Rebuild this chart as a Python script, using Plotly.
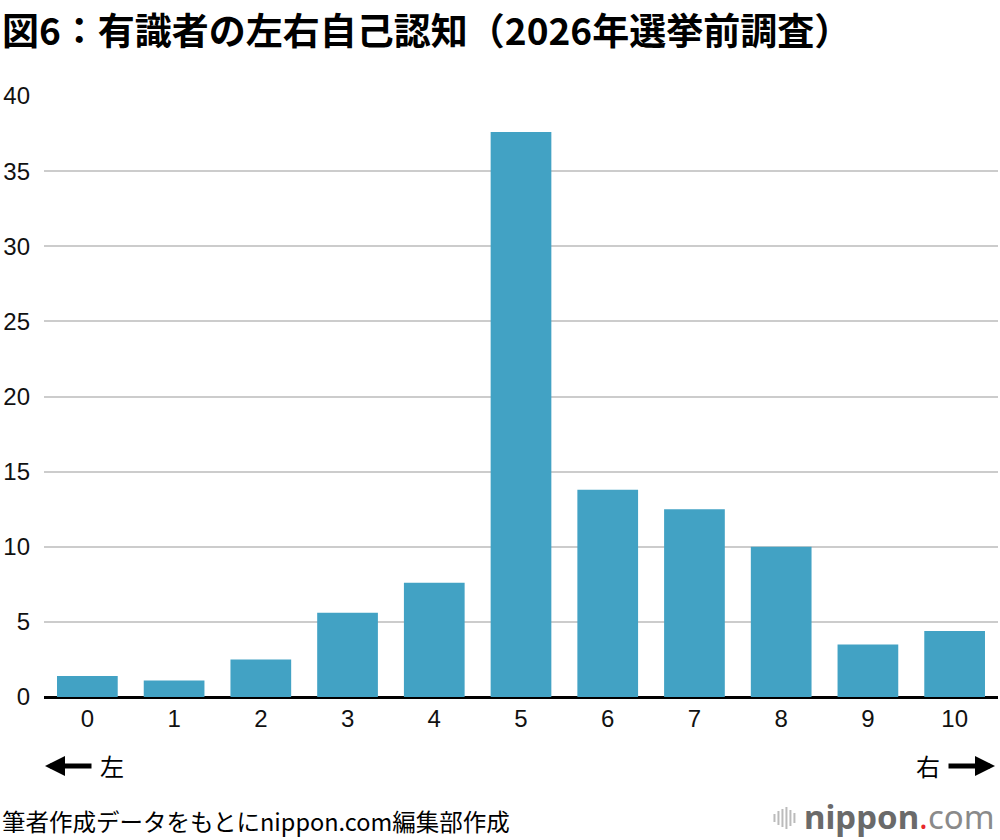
import plotly.graph_objects as go

categories = ["0", "1", "2", "3", "4", "5", "6", "7", "8", "9", "10"]
values = [1.4, 1.1, 2.5, 5.6, 7.6, 37.6, 13.8, 12.5, 10.0, 3.5, 4.4]
y_ticks = [0, 5, 10, 15, 20, 25, 30, 35, 40]

title_text = "図6：有識者の左右自己認知（2026年選挙前調査）"
source_text = "筆者作成データをもとにnippon.com編集部作成"

JP = "Noto Sans CJK JP"
NUM = "Liberation Sans"

L, T, B, W = 44, 96, 143, 956
H = 840 - T - B


def px(x):
    return (x - L) / W


def py(y):
    return (840 - B - y) / H


fig = go.Figure(go.Bar(
    x=categories, y=values,
    marker=dict(color="#42A2C4", line=dict(width=0)),
    hoverinfo="x+y",
))

shapes = []
# nippon.com logo icon (decorative vertical bars)
for xx, h in [(776, 8), (780, 14), (784, 18), (788, 22), (792, 16), (796, 10)]:
    shapes.append(dict(type="line", xref="paper", yref="paper",
                       x0=px(xx), x1=px(xx), y0=py(818 - h / 2), y1=py(818 + h / 2),
                       line=dict(color="#bbbbbb", width=2)))

fig.update_layout(
    width=1000, height=840,
    margin=dict(l=L, r=2, t=T, b=B),
    paper_bgcolor="white", plot_bgcolor="white",
    bargap=0.3,
    showlegend=False,
    shapes=shapes,
    xaxis=dict(
        type="category", showgrid=False, zeroline=False, showline=False,
        ticks="", tickfont=dict(family=NUM, size=24, color="#111"),
        ticklabelstandoff=5,
    ),
    yaxis=dict(
        range=[0, 40], tickvals=y_ticks, showgrid=True, gridcolor="#cccccc", gridwidth=1.5,
        zeroline=True, zerolinecolor="#000", zerolinewidth=2.5, showline=False,
        ticks="", tickfont=dict(family=NUM, size=24, color="#111"),
        ticklabelstandoff=13,
    ),
    annotations=[
        dict(text="<b>" + title_text + "</b>", xref="paper", yref="paper",
             x=px(0), y=py(0), xanchor="left", yanchor="top",
             showarrow=False, font=dict(family=JP, size=37, color="#000")),
        # left arrow
        dict(text="", xref="paper", yref="paper", x=px(45), y=py(766),
             ax=48, ay=0, showarrow=True, arrowhead=2, arrowsize=0.8,
             arrowwidth=5, arrowcolor="#000"),
        dict(text="左", xref="paper", yref="paper", x=px(98), y=py(766),
             xanchor="left", yanchor="middle", showarrow=False,
             font=dict(family=JP, size=24, color="#000")),
        # right arrow
        dict(text="", xref="paper", yref="paper", x=px(997), y=py(766),
             ax=-48, ay=0, showarrow=True, arrowhead=2, arrowsize=0.8,
             arrowwidth=5, arrowcolor="#000"),
        dict(text="右", xref="paper", yref="paper", x=px(944), y=py(766),
             xanchor="right", yanchor="middle", showarrow=False,
             font=dict(family=JP, size=24, color="#000")),
        # source
        dict(text=source_text, xref="paper", yref="paper", x=px(0), y=py(821),
             xanchor="left", yanchor="middle", showarrow=False,
             font=dict(family=JP, size=23.5, color="#000")),
        # logo text
        dict(text="<b><span style='color:#6a6a6a'>nippon</span></b>"
                  "<span style='color:#e8282b'>.</span><span style='color:#8a8a8a'>com</span>",
             xref="paper", yref="paper", x=px(999), y=py(816),
             xanchor="right", yanchor="middle", showarrow=False,
             font=dict(family="Noto Sans, " + JP, size=33)),
    ],
)

fig.write_html("out.html")
